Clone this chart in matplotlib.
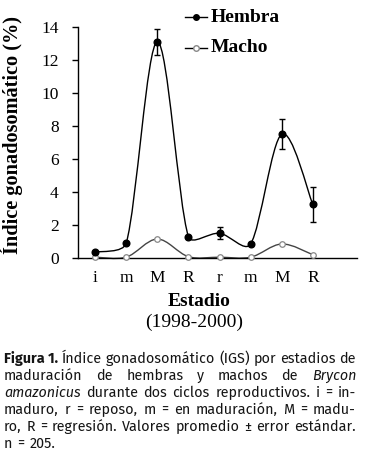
import matplotlib
matplotlib.use("Agg")
import matplotlib.pyplot as plt
from matplotlib.path import Path
from matplotlib.patches import PathPatch
from matplotlib.lines import Line2D
from matplotlib import font_manager
from matplotlib.font_manager import FontProperties
from matplotlib.ft2font import FT2Font
import numpy as np

# ---- data ----
stages = ["i", "m", "M", "R", "r", "m", "M", "R"]
hembra = [0.35, 0.9, 13.1, 1.3, 1.5, 0.85, 7.5, 3.25]
hembra_err = [0.0, 0.0, 0.8, 0.0, 0.35, 0.0, 0.9, 1.05]
macho = [0.05, 0.05, 1.15, 0.08, 0.05, 0.05, 0.85, 0.2]
yticks = [0, 2, 4, 6, 8, 10, 12, 14]

W, H = 367, 459
fig = plt.figure(figsize=(W / 100, H / 100), dpi=100)
fig.patch.set_facecolor("white")

serif = ["Liberation Serif", "DejaVu Serif"]

def px(x, y):
    return x / W, 1 - y / H

l, b = px(78, 258)
r, t = px(357, 27)
ax = fig.add_axes([l, b, r - l, t - b])
ax.set_facecolor("none")
x = np.arange(len(stages))
ax.set_xlim(-0.55, 8.42)
ax.set_ylim(0, 14)

def smooth_path(xs, ys):
    # Catmull-Rom style Bezier, control arm limited to a third of the segment (display space)
    pts = ax.transData.transform(np.column_stack([xs, ys]).astype(float))
    n = len(pts)
    chords = []
    for i in range(n):
        a = pts[i - 1] if i > 0 else pts[i]
        c = pts[i + 1] if i < n - 1 else pts[i]
        chords.append(c - a)
    verts = [pts[0]]
    codes = [Path.MOVETO]
    for i in range(n - 1):
        seg = np.hypot(*(pts[i + 1] - pts[i]))
        def arm(ch):
            L = np.hypot(*ch) / 6.0
            s = min(1.0, (seg / 3.0) / L) if L > 0 else 1.0
            return ch / 6.0 * s
        c1 = pts[i] + arm(chords[i])
        c2 = pts[i + 1] - arm(chords[i + 1])
        verts += [c1, c2, pts[i + 1]]
        codes += [Path.CURVE4] * 3
    verts = ax.transData.inverted().transform(np.array(verts))
    return Path(verts, codes)

ax.add_patch(PathPatch(smooth_path(x, macho), fill=False, edgecolor="#444444", lw=1.0, clip_on=False, zorder=2))
ax.add_patch(PathPatch(smooth_path(x, hembra), fill=False, edgecolor="black", lw=1.0, clip_on=False, zorder=3))
ax.errorbar(x, hembra, yerr=hembra_err, fmt="none", ecolor="black", elinewidth=1.0, capsize=2.0, capthick=1.0, zorder=3, clip_on=False)
ax.plot(x, macho, ls="none", marker="o", ms=4.0, mfc="white", mec="#888888", mew=0.9, zorder=4, clip_on=False)
ax.plot(x, hembra, ls="none", marker="o", ms=4.8, mfc="black", mec="black", zorder=5, clip_on=False)

for s in ["top", "right"]:
    ax.spines[s].set_visible(False)
ax.spines["left"].set_linewidth(1.0)
ax.spines["bottom"].set_linewidth(1.0)
ax.set_yticks(yticks)
ax.set_yticklabels([str(v) for v in yticks], fontfamily=serif, fontsize=12.5)
ax.tick_params(axis="y", direction="out", length=4, width=1, pad=10)
ax.set_xticks(x)
ax.set_xticklabels(stages, fontfamily=serif, fontsize=12.5)
ax.tick_params(axis="x", length=0, pad=9)

# y label
fig.text(12 / W, 1 - 135 / H, "Índice gonadosomático (%)", rotation=90, ha="center", va="center",
         fontfamily=serif, fontweight="bold", fontsize=14.6)
# x labels
fig.text(199 / W, 1 - 302 / H, "Estadio", ha="center", va="center", fontfamily=serif, fontweight="bold", fontsize=14)
fig.text(194 / W, 1 - 322 / H, "(1998-2000)", ha="center", va="center", fontfamily=serif, fontsize=14)

# legend (manual)
for (yy, lab, mfc, mec) in [(17, "Hembra", "black", "black"), (48, "Macho", "white", "#888888")]:
    fig.add_artist(Line2D([185 / W, 207 / W], [1 - yy / H, 1 - yy / H], color="black", lw=1.0))
    fig.add_artist(Line2D([196 / W], [1 - yy / H], marker="o", ms=4.0, mfc=mfc, mec=mec, ls="none"))
    fig.text(211 / W, 1 - yy / H, lab, ha="left", va="center", fontfamily=serif, fontweight="bold", fontsize=14)

# caption (justified)
caption = [
    [("Figura 1.", "bold"), ("Índice", ""), ("gonadosomático", ""), ("(IGS)", ""), ("por", ""), ("estadios", ""), ("de", "")],
    [("maduración", ""), ("de", ""), ("hembras", ""), ("y", ""), ("machos", ""), ("de", ""), ("Brycon", "italic")],
    [("amazonicus", "italic"), ("durante", ""), ("dos", ""), ("ciclos", ""), ("reproductivos.", ""), ("i", ""), ("=", ""), ("in-", "")],
    [("maduro,", ""), ("r", ""), ("=", ""), ("reposo,", ""), ("m", ""), ("=", ""), ("en", ""), ("maduración,", ""), ("M", ""), ("=", ""), ("madu-", "")],
    [("ro,", ""), ("R", ""), ("=", ""), ("regresión.", ""), ("Valores", ""), ("promedio", ""), ("±", ""), ("error", ""), ("estándar.", "")],
    [("n", ""), ("=", ""), ("205.", "")],
]
x0, x1 = 4, 356
baselines = [363, 380, 397, 414, 431, 448]
renderer = fig.canvas.get_renderer()

def mk(word, style, size, fam):
    kw = dict(fontfamily=[fam, "DejaVu Sans"], fontsize=size, va="baseline", ha="left", color="#151515")
    if style == "bold":
        kw["fontweight"] = "bold"
    if style == "italic":
        kw["fontstyle"] = "italic"
    return fig.text(0, 0, word, **kw)

def width_of(word, style, size, fam):
    a = mk(word, style, size, fam)
    w = a.get_window_extent(renderer).width
    a.remove()
    return w

def space_of(size, fam):
    return width_of("a a", "", size, fam) - width_of("aa", "", size, fam)

def cap_height(fam, size):
    path = font_manager.findfont(FontProperties(family=fam), fallback_to_default=False)
    ft = FT2Font(path)
    ft.set_size(size, 100)
    g = ft.load_char(ord("H"))
    return g.height / 64.0

names = {}
for f in font_manager.fontManager.ttflist:
    names.setdefault(f.name, set()).add((f.style, f.weight if isinstance(f.weight, int) else 400))

candidates = ["Libre Franklin", "Franklin Gothic Book", "Source Sans 3", "Source Sans Pro", "Fira Sans Condensed",
              "Asap Condensed", "Roboto Condensed", "IBM Plex Sans Condensed", "Barlow Semi Condensed",
              "Liberation Sans Narrow", "Asap", "Fira Sans", "Liberation Sans"]
target_cap = 10.2
best = None
for fam in candidates:
    if fam not in names:
        continue
    wts = names[fam]
    if not any(w >= 600 for s, w in wts) or not any(s == "italic" for s, w in wts):
        continue
    try:
        nat = sum(width_of(w, s, 10, fam) for w, s in caption[0]) + space_of(10, fam) * (len(caption[0]) - 1)
        size = 10 * (x1 - x0) / nat * 0.99
        ch = cap_height(fam, size)
    except Exception:
        continue
    score = abs(ch - target_cap)
    if best is None or score < best[0]:
        best = (score, fam, size)

if best is None:
    cap_font, cap_size = "Liberation Sans", 9.0
else:
    _, cap_font, cap_size = best
    cap_size = min(cap_size, 11.0)

for li, line in enumerate(caption):
    arts = [mk(w, s, cap_size, cap_font) for w, s in line]
    ws = [a.get_window_extent(renderer).width for a in arts]
    if li == len(caption) - 1:
        sp = space_of(cap_size, cap_font) + 1.5
    else:
        sp = (x1 - x0 - sum(ws)) / (len(ws) - 1)
    xc = x0
    for a, wdt in zip(arts, ws):
        a.set_position((xc / W, 1 - baselines[li] / H))
        xc += wdt + sp

fig.savefig("out.png", dpi=100, facecolor="white")
